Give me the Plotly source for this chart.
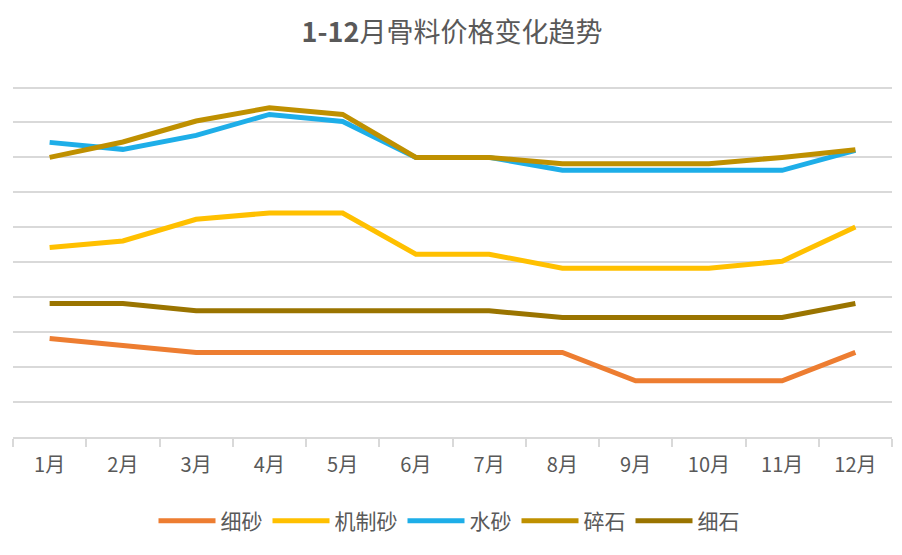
import plotly.graph_objects as go

months = ["1月", "2月", "3月", "4月", "5月", "6月", "7月", "8月", "9月", "10月", "11月", "12月"]

xisha = [2.82, 2.63, 2.42, 2.42, 2.42, 2.42, 2.42, 2.42, 1.61, 1.61, 1.61, 2.42]
jizhisha = [5.42, 5.61, 6.23, 6.41, 6.41, 5.23, 5.23, 4.83, 4.83, 4.83, 5.03, 6.01]
shuisha = [8.43, 8.23, 8.63, 9.23, 9.03, 8.0, 8.0, 7.63, 7.63, 7.63, 7.63, 8.2]
suishi = [8.0, 8.44, 9.04, 9.42, 9.23, 8.0, 8.0, 7.82, 7.82, 7.82, 8.0, 8.22]
xishi = [3.82, 3.82, 3.61, 3.61, 3.61, 3.61, 3.61, 3.42, 3.42, 3.42, 3.42, 3.82]

series = [
    ("细砂", xisha, "#ED7D31"),
    ("机制砂", jizhisha, "#FFC000"),
    ("水砂", shuisha, "#1EAEE8"),
    ("碎石", suishi, "#BF9000"),
    ("细石", xishi, "#9A7400"),
]

FONT = "Noto Sans CJK SC, Open Sans, sans-serif"

# page has an 8px body margin; figure coordinates are page coordinates - 8
fig = go.Figure()
for name, vals, color in series:
    fig.add_trace(go.Scatter(
        x=months, y=vals, name=name, mode="lines",
        line=dict(color=color, width=5),
    ))

H = 555
fig.update_layout(
    width=902, height=H,
    paper_bgcolor="white", plot_bgcolor="white",
    margin=dict(l=5, r=18, t=75.5, b=126, autoexpand=False),
    title=dict(
        text="<b>1-12</b>月骨料价格变化趋势",
        x=(452 - 8) / 902, xanchor="center", xref="container",
        yref="container", y=1 - 25 / H, yanchor="middle",
        font=dict(family=FONT, size=27, color="#595959"),
    ),
    font=dict(family=FONT, color="#595959"),
    showlegend=True,
    legend=dict(
        orientation="h", x=(449 - 8) / 902, xanchor="center", xref="container",
        yref="container", y=(H - 513) / H, yanchor="middle",
        font=dict(family=FONT, size=21, color="#595959"),
        itemwidth=57, tracegroupgap=0,
    ),
)

fig.update_xaxes(
    type="category", tickson="boundaries", ticks="outside", ticklen=8,
    tickcolor="#D9D9D9", tickwidth=1.5,
    showline=True, linecolor="#D9D9D9", linewidth=1.5,
    showgrid=False, tickfont=dict(family=FONT, size=20, color="#595959"),
    ticklabelstandoff=9,
    range=[-0.5, 11.5], automargin=False,
)
fig.update_yaxes(
    range=[0, 10.1], tickvals=[1, 2, 3, 4, 5, 6, 7, 8, 9, 10], showticklabels=False,
    showgrid=True, gridcolor="#D9D9D9", gridwidth=1.5,
    zeroline=False, showline=False, automargin=False,
)

fig.write_html("out.html")
